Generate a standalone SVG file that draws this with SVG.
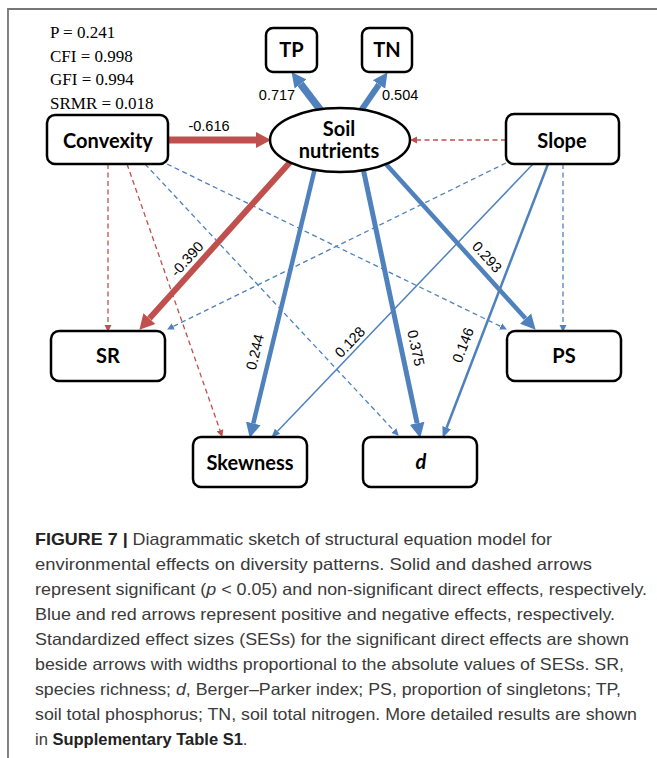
<svg xmlns="http://www.w3.org/2000/svg" width="657" height="758" viewBox="0 0 657 758">
<style>
.box{fill:#fff;stroke:#000;stroke-width:2.5}
.nl{font-family:Lato,"Liberation Sans",sans-serif;font-weight:bold;font-size:20px;fill:#000;text-anchor:middle}
.st{font-family:"Liberation Serif","Times New Roman",serif;font-size:17px;fill:#000}
.el{font-family:"Liberation Sans",Arial,sans-serif;font-size:14.5px;fill:#000}
.rl{text-anchor:middle;dominant-baseline:central}
.red{stroke:#C0504D;fill:none}
.blue{stroke:#4F81BD;fill:none}
.dash{stroke-width:1.3;stroke-dasharray:5 3.5}
.cap{font-family:"Liberation Sans",Arial,sans-serif;font-size:16.5px;fill:#3a3a3a}
.b{font-weight:bold;fill:#222}
</style>
<defs>
<marker id="hbR" markerUnits="userSpaceOnUse" markerWidth="16" markerHeight="17" viewBox="0 -8.5 16 17" refX="0" refY="0" orient="auto"><path d="M0,-8 L15,0 L0,8 z" fill="#C0504D"/></marker>
<marker id="hbB" markerUnits="userSpaceOnUse" markerWidth="16" markerHeight="17" viewBox="0 -8.5 16 17" refX="0" refY="0" orient="auto"><path d="M0,-7.5 L15,0 L0,7.5 z" fill="#4F81BD"/></marker>
<marker id="hmB" markerUnits="userSpaceOnUse" markerWidth="12" markerHeight="10" viewBox="0 -5 12 10" refX="0" refY="0" orient="auto"><path d="M0,-4.5 L11,0 L0,4.5 z" fill="#4F81BD"/></marker>
<marker id="htB" markerUnits="userSpaceOnUse" markerWidth="10" markerHeight="8" viewBox="0 -4 10 8" refX="0" refY="0" orient="auto"><path d="M0,-3.6 L9,0 L0,3.6 z" fill="#4F81BD"/></marker>
<marker id="hdR" markerUnits="userSpaceOnUse" markerWidth="8" markerHeight="8" viewBox="0 -4 8 8" refX="0" refY="0" orient="auto"><path d="M0,-3.5 L7,0 L0,3.5 z" fill="#C0504D"/></marker>
<marker id="hdB" markerUnits="userSpaceOnUse" markerWidth="8" markerHeight="8" viewBox="0 -4 8 8" refX="0" refY="0" orient="auto"><path d="M0,-3.5 L7,0 L0,3.5 z" fill="#4F81BD"/></marker>
</defs>
<rect width="657" height="758" fill="#fff"/>
<path d="M8,758 L8,9 L657,9" fill="none" stroke="#777" stroke-width="1.8"/>
<g id="fit-stats" class="st">
<text x="50" y="38">P = 0.241</text>
<text x="50" y="62">CFI = 0.998</text>
<text x="50" y="85">GFI = 0.994</text>
<text x="50" y="109">SRMR = 0.018</text>
</g>
<g id="connectors">
<line class="red dash" x1="108" y1="164" x2="108" y2="325" marker-end="url(#hdR)"/>
<line class="red dash" x1="127" y1="164" x2="220" y2="430.3" marker-end="url(#hdR)"/>
<line class="blue dash" x1="145" y1="164" x2="393.9" y2="430.6" marker-end="url(#hdB)"/>
<line class="blue dash" x1="167" y1="164" x2="500.6" y2="326.4" marker-end="url(#hdB)"/>
<line class="blue dash" x1="506" y1="163" x2="173.4" y2="326.4" marker-end="url(#hdB)"/>
<line class="blue dash" x1="563" y1="164" x2="563" y2="325" marker-end="url(#hdB)"/>
<line class="red dash" x1="506" y1="140" x2="417" y2="140" marker-end="url(#hdR)"/>
<line class="blue" stroke-width="1.5" x1="533" y1="164" x2="277.5" y2="431.2" marker-end="url(#htB)"/>
<line class="blue" stroke-width="2.5" x1="548" y1="164" x2="446.6" y2="427.7" marker-end="url(#hmB)"/>
<line class="red" stroke-width="7" x1="168" y1="140" x2="256" y2="140" marker-end="url(#hbR)"/>
<line class="blue" stroke-width="7.5" x1="322" y1="112" x2="300.6" y2="84" marker-end="url(#hbB)"/>
<line class="blue" stroke-width="6" x1="360" y1="112" x2="379" y2="84.5" marker-end="url(#hbB)"/>
<line class="red" stroke-width="6" x1="292" y1="160" x2="149.4" y2="318.6" marker-end="url(#hbR)"/>
<line class="blue" stroke-width="4.5" x1="315" y1="168" x2="253.3" y2="423.4" marker-end="url(#hbB)"/>
<line class="blue" stroke-width="5" x1="363" y1="168" x2="417.1" y2="423.3" marker-end="url(#hbB)"/>
<line class="blue" stroke-width="4.5" x1="385" y1="163" x2="525.6" y2="318.6" marker-end="url(#hbB)"/>
<text class="el" x="209" y="131" text-anchor="middle">-0.616</text>
<text class="el" x="277" y="100" text-anchor="middle">0.717</text>
<text class="el" x="382" y="100">0.504</text>
<text class="el rl" transform="translate(187,259) rotate(-48)">-0.390</text>
<text class="el rl" transform="translate(255,352) rotate(-76.3)">0.244</text>
<text class="el rl" transform="translate(416,348) rotate(77.9)">0.375</text>
<text class="el rl" transform="translate(487,257) rotate(47.9)">0.293</text>
<text class="el rl" transform="translate(463,345) rotate(-69)">0.146</text>
<text class="el rl" transform="translate(350,342) rotate(-46.3)">0.128</text>
</g>
<g id="convexity"><rect class="box" x="47" y="115" width="121" height="49" rx="8"/><text class="nl" x="108" y="148">Convexity</text></g>
<g id="tp"><rect class="box" x="266" y="28" width="51" height="44" rx="7"/><text class="nl" x="291.5" y="57">TP</text></g>
<g id="tn"><rect class="box" x="362" y="28" width="50" height="44" rx="7"/><text class="nl" x="387" y="57">TN</text></g>
<g id="soil-nutrients"><ellipse class="box" cx="340" cy="140" rx="70" ry="32"/><text class="nl" x="339" y="136">Soil</text><text class="nl" x="339" y="158">nutrients</text></g>
<g id="slope"><rect class="box" x="506" y="114" width="113" height="50" rx="8"/><text class="nl" x="562" y="148">Slope</text></g>
<g id="sr"><rect class="box" x="51" y="331" width="114" height="50" rx="8"/><text class="nl" x="108" y="363">SR</text></g>
<g id="ps"><rect class="box" x="507" y="331" width="114" height="50" rx="8"/><text class="nl" x="564" y="363">PS</text></g>
<g id="skewness"><rect class="box" x="193" y="437" width="114" height="50" rx="8"/><text class="nl" x="250" y="470">Skewness</text></g>
<g id="d"><rect class="box" x="363" y="437" width="114" height="50" rx="8"/><text class="nl" x="421" y="469" font-style="italic">d</text></g>
<g id="caption" class="cap">
<text x="35" y="545" textLength="517" lengthAdjust="spacingAndGlyphs"><tspan class="b">FIGURE 7 |</tspan> Diagrammatic sketch of structural equation model for</text>
<text x="35" y="570" textLength="557" lengthAdjust="spacingAndGlyphs">environmental effects on diversity patterns. Solid and dashed arrows</text>
<text x="35" y="595" textLength="612" lengthAdjust="spacingAndGlyphs">represent significant (<tspan font-style="italic">p</tspan> &lt; 0.05) and non-significant direct effects, respectively.</text>
<text x="35" y="620" textLength="580" lengthAdjust="spacingAndGlyphs">Blue and red arrows represent positive and negative effects, respectively.</text>
<text x="35" y="645" textLength="594" lengthAdjust="spacingAndGlyphs">Standardized effect sizes (SESs) for the significant direct effects are shown</text>
<text x="35" y="670" textLength="589" lengthAdjust="spacingAndGlyphs">beside arrows with widths proportional to the absolute values of SESs. SR,</text>
<text x="35" y="695" textLength="586" lengthAdjust="spacingAndGlyphs">species richness; <tspan font-style="italic">d</tspan>, Berger–Parker index; PS, proportion of singletons; TP,</text>
<text x="35" y="720" textLength="602" lengthAdjust="spacingAndGlyphs">soil total phosphorus; TN, soil total nitrogen. More detailed results are shown</text>
<text x="35" y="745">in <tspan class="b">Supplementary Table S1</tspan>.</text>
</g>
</svg>
